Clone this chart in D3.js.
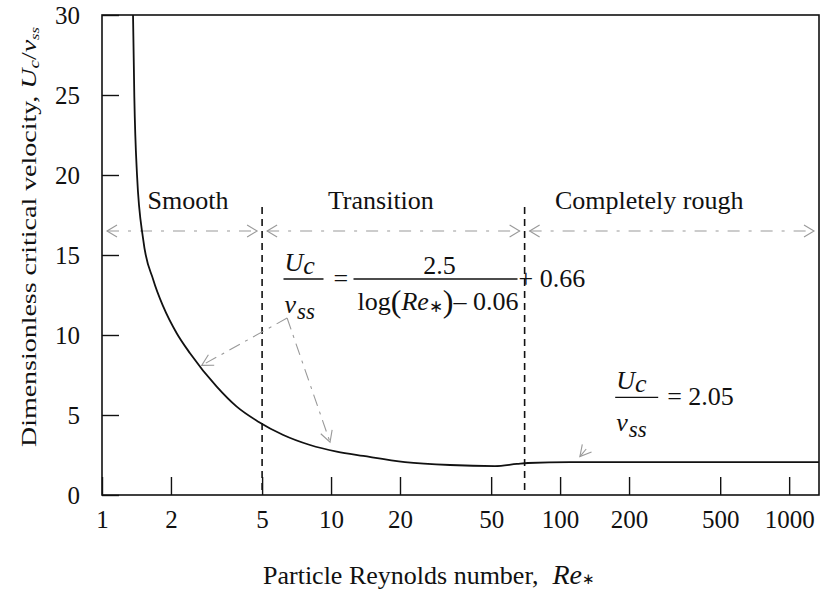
<!DOCTYPE html>
<html>
<head>
<meta charset="utf-8">
<script src="https://cdn.jsdelivr.net/npm/d3@7"></script>
<style>
  html, body { margin: 0; padding: 0; background: #fff; }
  svg { display: block; }
  text { font-family: "Liberation Serif", "Times New Roman", serif; fill: #111; }
</style>
</head>
<body>
<svg id="chart" width="820" height="592"></svg>
<script>
// ---- data ----
const reCurve = [1.366, 1.384, 1.422, 1.514, 1.675, 1.852, 2.119, 2.422, 3.168, 3.874, 4.814, 6.186, 8.093, 10.59, 13.83, 21.03, 33.06, 51.96, 64.8, 72.4, 110.5, 1350];
const vCurve  = [30, 24.88, 20.0, 15.94, 13.44, 11.77, 10.11, 8.86, 6.77, 5.52, 4.58, 3.75, 3.125, 2.71, 2.44, 2.06, 1.875, 1.81, 1.94, 2.0, 2.06, 2.05];

const xTicks = [1, 2, 5, 10, 20, 50, 100, 200, 500, 1000];
const yTicks = [0, 5, 10, 15, 20, 25, 30];

const regionNames  = ["Smooth", "Transition", "Completely rough"];
const regionStart  = [1, 5, 70];
const regionEnd    = [5, 70, 1350];
const regionLabelAt = [2.375, 16.5, 245];
const boundaries   = [5, 70];

const xDomain = [1, 1350];
const yDomain = [0, 30];

// ---- layout ----
const svg = d3.select("#chart");
const L = 102, R = 819, T = 15, B = 495;
const x = d3.scaleLog().domain(xDomain).range([L, R]);
const y = d3.scaleLinear().domain(yDomain).range([B, T]);

const serif = '"Liberation Serif", "Times New Roman", serif';

svg.append("defs").append("clipPath").attr("id", "plotclip")
  .append("rect").attr("x", L).attr("y", T).attr("width", R - L).attr("height", B - T);

// open chevron arrowhead at (tx,ty), pointing along the direction from (fx,fy)
function chevron(g, fx, fy, tx, ty, len, half, color, width) {
  const a = Math.atan2(ty - fy, tx - fx);
  const bx = tx - len * Math.cos(a), by = ty - len * Math.sin(a);
  const nx = -Math.sin(a), ny = Math.cos(a);
  g.append("path")
    .attr("d", `M${bx + nx * half},${by + ny * half}L${tx},${ty}L${bx - nx * half},${by - ny * half}`)
    .attr("fill", "none").attr("stroke", color).attr("stroke-width", width);
}

// ---- axes ----
const xAxis = d3.axisBottom(x).tickValues(xTicks).tickFormat(d3.format("d"))
  .tickSizeInner(-18).tickSizeOuter(0).tickPadding(15);
const gx = svg.append("g").attr("transform", `translate(0,${B})`).call(xAxis);
gx.select(".domain").remove();
gx.selectAll(".tick line").attr("stroke", "#111").attr("stroke-width", 1.4);
gx.selectAll(".tick text").attr("font-family", serif).attr("font-size", 25).attr("fill", "#111");

const yAxis = d3.axisLeft(y).tickValues(yTicks).tickFormat(d3.format("d"))
  .tickSizeInner(-17).tickSizeOuter(0).tickPadding(22);
const gy = svg.append("g").attr("transform", `translate(${L},0)`).call(yAxis);
gy.select(".domain").remove();
gy.selectAll(".tick line").attr("stroke", "#111").attr("stroke-width", 1.4);
gy.selectAll(".tick text").attr("font-family", serif).attr("font-size", 25).attr("fill", "#111");

// frame
svg.append("rect").attr("x", L).attr("y", T).attr("width", R - L).attr("height", B - T)
  .attr("fill", "none").attr("stroke", "#111").attr("stroke-width", 1.6);

// ---- region boundaries (dashed verticals) ----
svg.selectAll("line.boundary").data(boundaries).join("line")
  .attr("class", "boundary")
  .attr("x1", d => x(d)).attr("x2", d => x(d))
  .attr("y1", y(18)).attr("y2", y(0))
  .attr("stroke", "#111").attr("stroke-width", 1.6).attr("stroke-dasharray", "7,5");

// ---- region range arrows ----
const rangeY = y(16.5);
const rg = svg.append("g");
regionNames.forEach((name, i) => {
  const x1 = x(regionStart[i]) + 5, x2 = x(regionEnd[i]) - 5;
  rg.append("line").attr("x1", x1).attr("x2", x2).attr("y1", rangeY).attr("y2", rangeY)
    .attr("stroke", "#999").attr("stroke-width", 1.1).attr("stroke-dasharray", "12,9,3,9");
  chevron(rg, x2, rangeY, x1, rangeY, 10, 6, "#999", 1.1);
  chevron(rg, x1, rangeY, x2, rangeY, 10, 6, "#999", 1.1);
  svg.append("text").attr("x", x(regionLabelAt[i])).attr("y", y(17.85))
    .attr("text-anchor", "middle").attr("font-size", 26).text(name);
});

// ---- curve ----
const pts = reCurve.map((r, i) => [r, vCurve[i]]);
svg.append("path").datum(pts)
  .attr("clip-path", "url(#plotclip)")
  .attr("d", d3.line().x(d => x(d[0])).y(d => y(d[1])).curve(d3.curveMonotoneX))
  .attr("fill", "none").attr("stroke", "#111").attr("stroke-width", 1.8);

// ---- equation helpers ----
function ratio(g, lineLen) {
  g.append("line").attr("x1", 0).attr("x2", lineLen).attr("y1", 0).attr("y2", 0)
    .attr("stroke", "#111").attr("stroke-width", 1.3);
  const num = g.append("text").attr("x", 1).attr("y", -8).attr("font-size", 26);
  num.append("tspan").attr("font-style", "italic").text("U");
  num.append("tspan").attr("font-style", "italic").attr("dy", 3).text("c");
  const den = g.append("text").attr("x", 1).attr("y", 34).attr("font-size", 26);
  den.append("tspan").attr("font-style", "italic").text("v");
  den.append("tspan").attr("font-style", "italic").attr("font-size", 23).attr("dy", 6).attr("dx", 1).text("ss");
}

// Equation 1 (transition)
const eq1Anchor = [6.2, 13.5];
const e1 = svg.append("g").attr("transform", `translate(${x(eq1Anchor[0])},${y(eq1Anchor[1])})`);
ratio(e1, 40);
e1.append("text").attr("x", 50).attr("y", 8).attr("font-size", 26).text("=");
e1.append("line").attr("x1", 70).attr("x2", 234).attr("y1", 0).attr("y2", 0)
  .attr("stroke", "#111").attr("stroke-width", 1.3);
e1.append("text").attr("x", 156).attr("y", -5).attr("text-anchor", "middle").attr("font-size", 26).text("2.5");
const d1 = e1.append("text").attr("x", 74).attr("y", 31).attr("font-size", 26);
d1.append("tspan").text("log");
d1.append("tspan").attr("font-size", 32).attr("dy", 2).text("(");
d1.append("tspan").attr("font-style", "italic").attr("dy", -2).text("Re");
d1.append("tspan").attr("font-size", 17).attr("dy", 2).text("∗");
d1.append("tspan").attr("font-size", 32).text(")");
d1.append("tspan").attr("dy", -2).text("– 0.06");
e1.append("text").attr("x", 235).attr("y", 8).attr("font-size", 26).text("+ 0.66");

// Equation 2 (completely rough)
const eq2Anchor = [174, 6.1];
const e2 = svg.append("g").attr("transform", `translate(${x(eq2Anchor[0])},${y(eq2Anchor[1])})`);
ratio(e2, 43);
e2.append("text").attr("x", 52).attr("y", 8).attr("font-size", 26).text("= 2.05");

// ---- leader arrows (gray, dashed) ----
const leaders = [
  { from: [6.43, 11.06], to: [2.724, 8.1] },
  { from: [6.43, 11.06], to: [9.9, 3.3] },
  { from: [130, 2.875], to: [122, 2.4] }
];
const lg = svg.append("g");
leaders.forEach(l => {
  const fx = x(l.from[0]), fy = y(l.from[1]), tx = x(l.to[0]), ty = y(l.to[1]);
  lg.append("line").attr("x1", fx).attr("y1", fy).attr("x2", tx).attr("y2", ty)
    .attr("stroke", "#999").attr("stroke-width", 1.1).attr("stroke-dasharray", "12,6,3,6");
  chevron(lg, fx, fy, tx, ty, 11, 6, "#999", 1.1);
});

// ---- axis titles ----
const yt = svg.append("text")
  .attr("transform", `translate(36,${(T + B) / 2 - 18}) rotate(-90)`)
  .attr("text-anchor", "middle").attr("font-size", 22)
  .attr("textLength", 420).attr("lengthAdjust", "spacingAndGlyphs");
yt.append("tspan").text("Dimensionless critical velocity, ");
yt.append("tspan").attr("font-style", "italic").text("U");
yt.append("tspan").attr("font-style", "italic").attr("font-size", 15).attr("dy", 3).text("c");
yt.append("tspan").attr("dy", -3).text("/");
yt.append("tspan").attr("font-style", "italic").text("v");
yt.append("tspan").attr("font-style", "italic").attr("font-size", 13).attr("dy", 3).text("ss");

const xt = svg.append("text").attr("x", 263).attr("y", 584).attr("font-size", 26);
xt.append("tspan").text("Particle Reynolds number,");
xt.append("tspan").attr("font-style", "italic").attr("font-size", 28).attr("dx", 14).text("Re");
xt.append("tspan").attr("font-size", 15).text("∗");
</script>
</body>
</html>
